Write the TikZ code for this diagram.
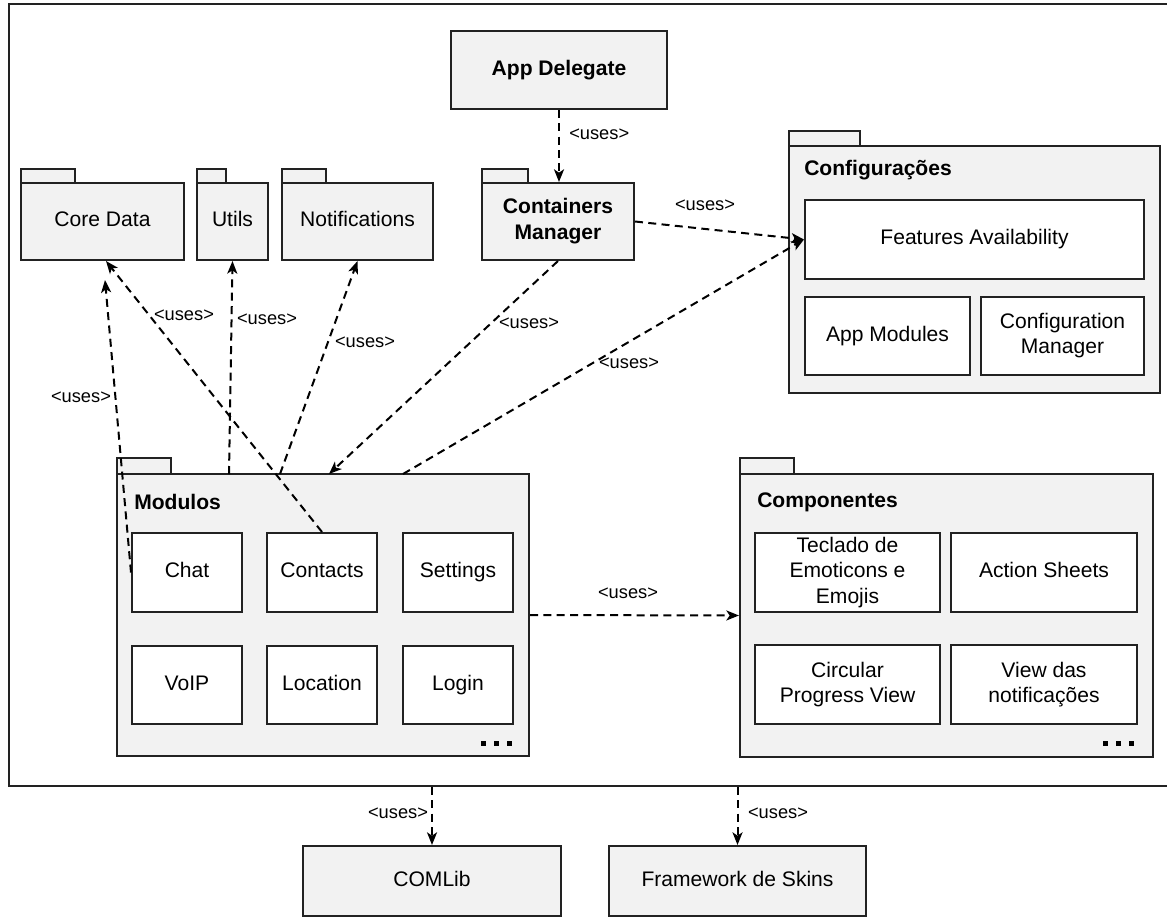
\documentclass[tikz,border=0pt]{standalone}
\usepackage{fontspec}
\setmainfont{Liberation Sans}
\usetikzlibrary{arrows.meta}
\definecolor{pkgfill}{HTML}{F2F2F2}
\definecolor{lc}{HTML}{222222}
\begin{document}
\begin{tikzpicture}[x=0.75pt,y=-0.75pt,
  area/.style n args={4}{at={({(#1+#3)/2},{(#2+#4)/2})}, minimum width={(#3-#1)*0.75pt}, minimum height={(#4-#2)*0.75pt}},
  base/.style={draw=lc, line width=1.5pt, inner sep=0pt, align=center, font=\fontsize{15.8}{18.8}\selectfont},
  oneline/.style={text height=11.5pt, text depth=3.3pt},
  pkg/.style={base, fill=pkgfill},
  inbox/.style={base, fill=white},
  tabbox/.style={draw=lc, line width=1.5pt, fill=pkgfill, inner sep=0pt},
  ptitle/.style={anchor=west, font=\bfseries\fontsize{15.8}{18.8}\selectfont, inner sep=0pt},
  lbl/.style={font=\fontsize{13.7}{16}\selectfont, inner sep=0pt},
  dep/.style={draw=black, line width=1.5pt, dash pattern=on 6pt off 4pt, -{Stealth[length=9.5pt,width=7.5pt,inset=2.5pt]}},
  dotsq/.style={fill=black}
]
\useasboundingbox (0,0) rectangle (1167,917);
% outer frame
\node[draw=lc, line width=1.5pt, inner sep=0pt, area={9}{4}{1175}{786}] (frame) {};

% App Delegate
\node[pkg, oneline, font=\bfseries\fontsize{15.8}{18.8}\selectfont, area={451}{31}{667}{109}] (app) {App Delegate};

% Containers Manager
\node[tabbox, area={482}{169}{528}{183}] (cmtab) {};
\node[pkg, font=\bfseries\fontsize{15.8}{19.5}\selectfont, area={482}{183}{634}{260}] (cm) {Containers\\Manager};

% Core Data, Utils, Notifications
\node[tabbox, area={21}{169}{75}{183}] (cdtab) {};
\node[pkg, oneline, area={21}{183}{184}{260}] (cd) {Core Data};
\node[tabbox, area={197}{169}{226}{183}] (uttab) {};
\node[pkg, oneline, area={197}{183}{268}{260}] (ut) {Utils};
\node[tabbox, area={282}{169}{326}{183}] (nttab) {};
\node[pkg, oneline, area={282}{183}{433}{260}] (nt) {Notifications};

% Configuracoes
\node[tabbox, area={789}{131}{860}{146}] (cfgtab) {};
\node[pkg, area={789}{146}{1160}{393}] (cfg) {};
\node[ptitle] (cfgtitle) at (804,170) {Configurações};
\node[inbox, oneline, area={805}{200}{1144}{279}] (feat) {Features Availability};
\node[inbox, oneline, area={805}{297}{970}{375}] (appmod) {App Modules};
\node[inbox, area={981}{297}{1144}{375}] (cfgman) {Configuration\\Manager};

% Modulos
\node[tabbox, area={117}{458}{171}{474}] (modtab) {};
\node[pkg, area={117}{474}{529}{756}] (mod) {};
\node[ptitle] (modtitle) at (134,502) {Modulos};
\node[inbox, oneline, area={132}{533}{242}{612}] (chat) {Chat};
\node[inbox, oneline, area={267}{533}{377}{612}] (contacts) {Contacts};
\node[inbox, oneline, area={403}{533}{513}{612}] (settings) {Settings};
\node[inbox, oneline, area={132}{646}{242}{724}] (voip) {VoIP};
\node[inbox, oneline, area={267}{646}{377}{724}] (location) {Location};
\node[inbox, oneline, area={403}{646}{513}{724}] (login) {Login};
\fill[dotsq] (481,741) rectangle (486,746);
\fill[dotsq] (494,741) rectangle (499,746);
\fill[dotsq] (507,741) rectangle (512,746);

% Componentes
\node[tabbox, area={740}{458}{794}{474}] (comptab) {};
\node[pkg, area={740}{474}{1153}{757}] (comp) {};
\node[ptitle] (comptitle) at (757,502) {Componentes};
\node[inbox, area={755}{533}{940}{612}] (tecl) {Teclado de\\Emoticons e\\Emojis};
\node[inbox, oneline, area={951}{533}{1137}{612}] (action) {Action Sheets};
\node[inbox, area={755}{645}{940}{724}] (circ) {Circular\\Progress View};
\node[inbox, area={951}{645}{1137}{724}] (viewn) {View das\\notificações};
\fill[dotsq] (1103,741) rectangle (1108,746);
\fill[dotsq] (1116,741) rectangle (1121,746);
\fill[dotsq] (1129,741) rectangle (1134,746);

% bottom boxes
\node[pkg, oneline, area={303}{846}{561}{916}] (comlib) {COMLib};
\node[pkg, oneline, area={609}{846}{866}{916}] (skins) {Framework de Skins};

% coordinates for connector ends
\coordinate (mCM) at (329,474);
\coordinate (mFeat) at (403,474);
\coordinate (mUt) at (229,474);
\coordinate (mNt) at (280,474);
\coordinate (cdChat) at (105,280);
\coordinate (cdCont) at (106,261);

% connectors
\draw[dep] (app.south) -- (app.south |- cm.north);
\node[lbl, anchor=west] (l1) at (569,134) {<uses>};
\draw[dep] (cm.east) -- (feat.west);
\node[lbl] (l2) at (705,205) {<uses>};
\draw[dep] (cm.south) -- (mCM);
\node[lbl] (l3) at (529,323) {<uses>};
\draw[dep] (mFeat) -- (feat.west);
\node[lbl] (l4) at (629,363) {<uses>};
\draw[dep] (mod.east) -- (comp.west);
\node[lbl] (l5) at (628,593) {<uses>};
\draw[dep] (chat.west) -- (cdChat);
\node[lbl] (l6) at (81,397) {<uses>};
\draw[dep] (contacts.north) -- (cdCont);
\node[lbl] (l7) at (184,315) {<uses>};
\draw[dep] (mUt) -- (ut.south);
\node[lbl] (l8) at (267,319) {<uses>};
\draw[dep] (mNt) -- (nt.south);
\node[lbl] (l9) at (365,342) {<uses>};
\draw[dep] (comlib.north |- frame.south) -- (comlib.north);
\node[lbl] (l10) at (398,813) {<uses>};
\draw[dep] (skins.north |- frame.south) -- (skins.north);
\node[lbl] (l11) at (778,813) {<uses>};
\end{tikzpicture}
\end{document}
